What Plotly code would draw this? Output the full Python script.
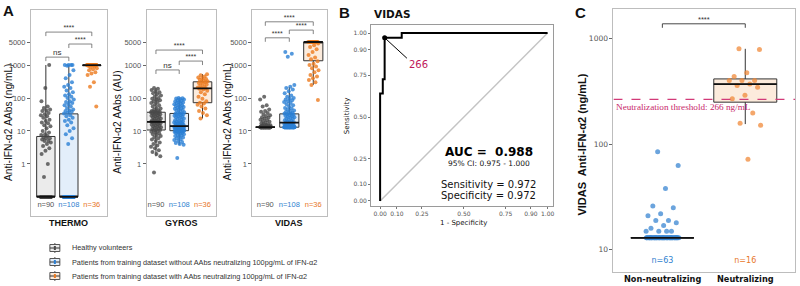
import plotly.graph_objects as go

W, H = 800, 286

# ---------------- data ----------------
legend_labels = ["Healthy volunteers",
                 "Patients from training dataset without AAbs neutralizing 100pg/mL of IFN-α2",
                 "Patients from training dataset with AAbs neutralizing 100pg/mL of IFN-α2"]
count_labels = ["n=90", "n=108", "n=36"]
assay_names = ["THERMO", "GYROS", "VIDAS"]
a_tick_vals = [1, 10, 100, 1000, 5000]
a_tick_text = ["1", "10", "100", "1000", "5000"]
a_y_titles = ["Anti-IFN-α2 AAbs (ng/mL)", "Anti-IFN-α2 AAbs (AU)", "Anti-IFN-α2 AAbs (ng/mL)"]

# THERMO (values below detection drawn at the floor 0.1)
thermo_healthy = [0.1] * 51 + [1000, 200, 80, 55, 50, 45, 42, 40, 35, 32, 30, 28, 25, 22, 20, 18, 17, 15, 14,
                               12, 10, 9, 8, 7.5, 7, 6.5, 6, 6, 5.5, 5, 5, 4.5, 4, 3.5, 3, 2.5, 2, 1, 0.4]
thermo_nonneut = [0.1] * 64 + [1000, 1000, 1000, 1000, 950, 700, 500, 400, 300, 250, 220, 200, 170, 150, 130,
                               120, 110, 100, 90, 80, 75, 70, 65, 60, 55, 50, 45, 42, 40, 38, 36, 34, 30, 28,
                               25, 22, 20, 18, 15, 12, 10, 8, 6, 4]
thermo_neut = [1000] * 24 + [950, 900, 850, 800, 750, 700, 600, 550, 500, 300, 220, 55]

gyros_healthy = [0.55, 1.7, 2, 2.3, 2.6, 3, 3.3, 3.6, 4, 4.5, 5, 5.5, 6, 6.5, 7, 7.5, 8, 8.5, 9, 9.5, 10, 10.3, 10.7,
                 11, 11.5, 12, 12.5, 13, 13.5, 14, 14.5, 15, 15.5, 16, 16.5, 17, 17.5, 18, 18.5, 19, 19, 19.5, 20, 20, 20.5,
                 21, 22, 23, 24, 25, 26, 27, 28, 29, 30, 31, 32, 33, 34, 35, 36, 37, 37, 38, 38, 39, 40,
                 42, 45, 48, 50, 55, 60, 65, 70, 75, 80, 85, 90, 95, 100, 110, 120, 130, 140, 150, 160, 175, 190, 200]
gyros_nonneut = [1.5, 3.8, 4, 4.3, 4.6, 5, 5.3, 5.6, 6, 6.3, 6.6, 7, 7.3, 7.6, 8, 8.3, 8.6, 8.9, 9.1, 9.3, 9.5, 9.7, 9.8,
                 9.9, 10, 10.1, 10.2,
                 10.3, 10.5, 10.7, 10.9, 11, 11.2, 11.4, 11.6, 11.8, 12, 12.2, 12.4, 12.6, 12.8, 13, 13, 13.2, 13.3,
                 13.4, 13.5, 13.6, 13.7, 13.8, 13.9, 14, 14, 14,
                 14.5, 15, 15.5, 16, 16.5, 17, 17.5, 18, 18.5, 19, 19.5, 20, 21, 22, 23, 24, 25, 26, 27, 28, 29, 30,
                 31, 32, 33, 33.5, 34,
                 35, 37, 39, 41, 43, 45, 47, 49, 51, 53, 55, 57, 60, 62, 65, 68, 70, 73, 76, 80, 83, 86, 90, 93, 96, 98, 100]
gyros_neut = [24, 30, 35, 40, 48, 55, 62, 68, 72, 80, 95, 110, 130, 150, 165, 180, 190, 196, 200, 210, 225, 240,
              255, 270, 285, 300, 310, 320, 340, 360, 380, 400, 420, 450, 490, 530]

vidas_healthy = [13] * 60 + [110, 90, 60, 55, 45, 40, 38, 35, 32, 30, 28, 26, 25, 24, 22, 21, 20, 19, 18, 17,
                             16, 16, 15, 15, 15, 14, 14, 14, 14, 14]
vidas_nonneut = [13] * 45 + [2500, 2200, 1800, 250, 220, 200, 180, 160, 140, 120, 110, 100, 95, 90, 85, 80, 75, 70,
                             65, 60, 55, 50, 48, 45, 42, 40, 38, 36, 35, 34, 33, 32, 31, 30, 29, 28, 27, 26, 25, 24,
                             23, 22, 21, 20, 19, 18.5, 18, 18, 17.5, 17, 16.5, 16, 16, 15.5, 15, 15, 14.5, 14.5, 14,
                             14, 14, 13.5, 13.5]
vidas_neut = [5000] * 14 + [4500, 4000, 3500, 3000, 2500, 2000, 1700, 1500, 1300, 1100, 1000, 900, 800, 700, 600,
                            500, 450, 400, 350, 300, 250, 87]

# box statistics per assay: [healthy, non-neutralizing, neutralizing]
box_q1 = {"THERMO": [0.1, 0.1, 950], "GYROS": [10.7, 10.2, 72], "VIDAS": [13, 13, 1350]}
box_median = {"THERMO": [0.1, 0.1, 1000], "GYROS": [19, 14, 196], "VIDAS": [13, 18, 5000]}
box_q3 = {"THERMO": [6.8, 33, 1000], "GYROS": [37, 34, 310], "VIDAS": [13, 33, 5000]}
box_low = {"THERMO": [0.1, 0.1, 950], "GYROS": [1.7, 3.8, 24], "VIDAS": [13, 13, 250]}
box_high = {"THERMO": [1000, 1000, 1000], "GYROS": [200, 100, 530], "VIDAS": [13, 215, 5000]}

# significance brackets: (from group, to group, level, label)
brackets = {
    "THERMO": [(0, 1, 1740, "ns"), (1, 2, 4340, "****"), (0, 2, 10000, "****")],
    "GYROS": [(0, 1, 710, "ns"), (1, 2, 1320, "****"), (0, 2, 2850, "****")],
    "VIDAS": [(0, 1, 6700, "****"), (1, 2, 11500, "****"), (0, 2, 20500, "****")],
}

# ROC (VIDAS)
roc_fpr = [0, 0, 0.016, 0.016, 0.027, 0.027, 0.129, 0.129, 1.0]
roc_tpr = [0, 0.64, 0.64, 0.725, 0.725, 0.972, 0.972, 1.0, 1.0]
roc_cut_fpr, roc_cut_tpr, roc_cut_label = 0.027, 0.972, "266"
roc_ticks = [0, 0.10, 0.25, 0.50, 0.75, 0.90, 1.00]
roc_tick_text = ["0.00", "0.10", "0.25", "0.50", "0.75", "0.90", "1.00"]
auc_text = "AUC =  0.988"
ci_text = "95% CI: 0.975 - 1.000"
sens_text = "Sensitivity = 0.972"
spec_text = "Specificity = 0.972"

# Panel C
c_categories = ["Non-neutralizing", "Neutralizing"]
c_counts = ["n=63", "n=16"]
c_nonneut = [13] * 47 + [85, 63, 38, 26, 25, 22, 21, 19, 19, 18, 17, 16, 15, 15, 15, 15]
c_neut = [800, 790, 474, 437, 400, 400, 400, 372, 360, 347, 290, 270, 197, 158, 151, 72]
c_q1 = [13, 250]
c_median = [13, 370]
c_q3 = [13, 415]
c_low = [13, 155]
c_high = [13, 800]
c_threshold = 266
c_threshold_text = "Neutralization threshold: 266 ng/mL"
c_bracket = (0, 1, 1380, "****")
c_tick_vals = [10, 100, 1000]
c_tick_text = ["10", "100", "1000"]

# ---------------- style ----------------
pt_colors = ["#4A4A4A", "#2A7FD4", "#EC7A1E"]
fill_colors = ["#EBEBEB", "#E3EEFA", "#FCEBDC"]
txt_colors = ["#555555", "#2F7FCF", "#E8772A"]
SANS = "Liberation Sans"
DJ = "DejaVu Sans"


def jitter(n, amp):
    return [((i * 0.6180339887 + 0.31) % 1 - 0.5) * 2 * amp for i in range(n)]


def px(x):
    return x / W


def py(y):
    return 1 - y / H


fig = go.Figure()

a_data = {"THERMO": [thermo_healthy, thermo_nonneut, thermo_neut],
          "GYROS": [gyros_healthy, gyros_nonneut, gyros_neut],
          "VIDAS": [vidas_healthy, vidas_nonneut, vidas_neut]}

for k, assay in enumerate(assay_names):
    xa = "x" if k == 0 else f"x{k + 1}"
    ya = "y" if k == 0 else f"y{k + 1}"
    for g in range(3):
        fig.add_trace(go.Box(x=[g], q1=[box_q1[assay][g]], median=[box_median[assay][g]],
                             q3=[box_q3[assay][g]], lowerfence=[box_low[assay][g]],
                             upperfence=[box_high[assay][g]], width=0.8, whiskerwidth=0,
                             fillcolor=fill_colors[g], line=dict(color="#333333", width=1),
                             boxpoints=False, xaxis=xa, yaxis=ya, showlegend=False, hoverinfo="skip"))
        vals = a_data[assay][g]
        fig.add_trace(go.Scatter(x=[g + j for j in jitter(len(vals), 0.22)], y=vals, mode="markers",
                                 marker=dict(size=4, color=pt_colors[g], opacity=0.8),
                                 xaxis=xa, yaxis=ya, showlegend=False, hoverinfo="skip"))
        fig.add_trace(go.Scatter(x=[g - 0.4, g + 0.4], y=[box_median[assay][g]] * 2, mode="lines",
                                 line=dict(color="#111111", width=1.8), xaxis=xa, yaxis=ya,
                                 showlegend=False, hoverinfo="skip"))
        fig.add_trace(go.Scatter(x=[g], y=[0.057], mode="text", text=[count_labels[g]],
                                 textfont=dict(size=7.5, color=txt_colors[g], family=SANS),
                                 xaxis=xa, yaxis=ya, showlegend=False, hoverinfo="skip", cliponaxis=False))
    for (g0, g1, lev, lab) in brackets[assay]:
        leg = lev * 10 ** (-4 / 33)
        fig.add_trace(go.Scatter(x=[g0, g0, g1, g1], y=[leg, lev, lev, leg], mode="lines",
                                 line=dict(color="#666666", width=0.8), xaxis=xa, yaxis=ya,
                                 showlegend=False, hoverinfo="skip", cliponaxis=False))
        fig.add_trace(go.Scatter(x=[(g0 + g1) / 2], y=[lev], mode="text", text=[lab],
                                 textposition="top center",
                                 textfont=dict(size=8 if lab == "ns" else 7, color="#333333", family=SANS),
                                 xaxis=xa, yaxis=ya, showlegend=False, hoverinfo="skip", cliponaxis=False))

# ROC
fig.add_trace(go.Scatter(x=[0, 1], y=[0, 1], mode="lines", line=dict(color="#C4C4C4", width=1.5),
                         xaxis="x4", yaxis="y4", showlegend=False, hoverinfo="skip"))
fig.add_trace(go.Scatter(x=roc_fpr, y=roc_tpr, mode="lines", line=dict(color="#000000", width=2),
                         xaxis="x4", yaxis="y4", showlegend=False, hoverinfo="skip"))
fig.add_trace(go.Scatter(x=[roc_cut_fpr, 0.16], y=[roc_cut_tpr, 0.85], mode="lines",
                         line=dict(color="#000000", width=1), xaxis="x4", yaxis="y4",
                         showlegend=False, hoverinfo="skip"))
fig.add_trace(go.Scatter(x=[roc_cut_fpr], y=[roc_cut_tpr], mode="markers",
                         marker=dict(size=5, color="#000000"), xaxis="x4", yaxis="y4",
                         showlegend=False, hoverinfo="skip"))

# Panel C
c_vals = [c_nonneut, c_neut]
c_pt_colors = ["#3A85D2", "#F08A3A"]
for g in range(2):
    fig.add_trace(go.Box(x=[g], q1=[c_q1[g]], median=[c_median[g]], q3=[c_q3[g]], lowerfence=[c_low[g]],
                         upperfence=[c_high[g]], width=0.76, whiskerwidth=0,
                         fillcolor=fill_colors[g + 1], line=dict(color="#333333", width=1),
                         boxpoints=False, xaxis="x5", yaxis="y5", showlegend=False, hoverinfo="skip"))
    fig.add_trace(go.Scatter(x=[g + j for j in jitter(len(c_vals[g]), 0.2)], y=c_vals[g], mode="markers",
                             marker=dict(size=5, color=c_pt_colors[g], opacity=0.75),
                             xaxis="x5", yaxis="y5", showlegend=False, hoverinfo="skip"))
    fig.add_trace(go.Scatter(x=[g - 0.38, g + 0.38], y=[c_median[g]] * 2, mode="lines",
                             line=dict(color="#111111", width=1.8), xaxis="x5", yaxis="y5",
                             showlegend=False, hoverinfo="skip"))
    fig.add_trace(go.Scatter(x=[g], y=[7.9], mode="text", text=[c_counts[g]],
                             textfont=dict(size=8, color=txt_colors[g + 1], family=DJ),
                             xaxis="x5", yaxis="y5", showlegend=False, hoverinfo="skip", cliponaxis=False))
fig.add_trace(go.Scatter(x=[-0.59, 1.6], y=[c_threshold] * 2, mode="lines",
                         line=dict(color="#D23A78", width=1.2, dash="dash"), xaxis="x5", yaxis="y5",
                         showlegend=False, hoverinfo="skip"))
g0, g1, lev, lab = c_bracket
leg = lev * 10 ** (-4 / 106)
fig.add_trace(go.Scatter(x=[g0, g0, g1, g1], y=[leg, lev, lev, leg], mode="lines",
                         line=dict(color="#333333", width=0.9), xaxis="x5", yaxis="y5",
                         showlegend=False, hoverinfo="skip"))
fig.add_trace(go.Scatter(x=[(g0 + g1) / 2], y=[lev], mode="text", text=[lab], textposition="top center",
                         textfont=dict(size=7.5, color="#333333", family=SANS),
                         xaxis="x5", yaxis="y5", showlegend=False, hoverinfo="skip", cliponaxis=False))

# ---------------- axes ----------------
frameA = "#BDBDBD"
ax_x_A = dict(showticklabels=False, ticks="", showgrid=False, zeroline=False, showline=True,
              linecolor=frameA, linewidth=1, mirror=True)
ax_y_A = dict(type="log", range=[-1.58, 4.67], tickvals=a_tick_vals, ticktext=a_tick_text, ticks="outside",
              ticklen=3, tickcolor="#666666", tickfont=dict(size=7.5, color="#555555", family=SANS),
              showgrid=False, zeroline=False, showline=True, linecolor=frameA, linewidth=1, mirror=True)
ydomA = [py(216), py(10)]

layout = dict(
    width=W, height=H, margin=dict(l=0, r=0, t=0, b=0), paper_bgcolor="white", plot_bgcolor="white",
    boxmode="overlay",
    xaxis=dict(domain=[px(31), px(107)], range=[-0.65, 2.65], anchor="y", **ax_x_A),
    yaxis=dict(domain=ydomA, anchor="x", **ax_y_A),
    xaxis2=dict(domain=[px(147), px(217)], range=[-0.4, 2.6], anchor="y2", **ax_x_A),
    yaxis2=dict(domain=ydomA, anchor="x2", **ax_y_A),
    xaxis3=dict(domain=[px(253), px(328)], range=[-0.54, 2.58], anchor="y3", **ax_x_A),
    yaxis3=dict(domain=ydomA, anchor="x3", **ax_y_A),
    xaxis4=dict(domain=[px(372), px(554)], range=[-0.054, 1.03], anchor="y4", tickvals=roc_ticks,
                ticktext=roc_tick_text, ticks="outside", ticklen=2, tickcolor="#777777",
                tickfont=dict(size=6, color="#555555", family=DJ), showgrid=False, zeroline=False,
                showline=True, linecolor="#9A9A9A", mirror=True),
    yaxis4=dict(domain=[py(206), py(25)], range=[-0.03, 1.048], anchor="x4", tickvals=roc_ticks,
                ticktext=roc_tick_text, ticks="outside", ticklen=2, tickcolor="#777777",
                tickfont=dict(size=6, color="#555555", family=DJ), showgrid=False, zeroline=False,
                showline=True, linecolor="#9A9A9A", mirror=True),
    xaxis5=dict(domain=[px(615), px(797)], range=[-0.59, 1.6], anchor="y5", showticklabels=False, ticks="",
                showgrid=False, zeroline=False, showline=True, linecolor=frameA, mirror=True),
    yaxis5=dict(domain=[py(272), py(9)], type="log", range=[0.79, 3.28], anchor="x5", tickvals=c_tick_vals,
                ticktext=c_tick_text, ticks="outside", ticklen=3, tickcolor="#666666",
                tickfont=dict(size=7.5, color="#555555", family=DJ), showgrid=False, zeroline=False,
                showline=True, linecolor=frameA, mirror=True),
)
fig.update_layout(**layout)


def ann(text, x, y, size, color="#111111", family=SANS, xanchor="center", angle=0, bold=False):
    fig.add_annotation(text=f"<b>{text}</b>" if bold else text, x=px(x), y=py(y), xref="paper", yref="paper",
                       showarrow=False, xanchor=xanchor, yanchor="middle", textangle=angle,
                       font=dict(size=size, color=color, family=family))


# panel letters
ann("A", 9, 11, 15, bold=True)
ann("B", 345, 13, 15, bold=True)
ann("C", 582, 12, 15, bold=True)

# panel A titles
for k, (cx, tx) in enumerate([(69, 8), (182, 117), (290, 228)]):
    ann(assay_names[k], cx, 223, 9, color="#111111", bold=True)
    ann(a_y_titles[k], tx, 122, 10.2, color="#111111", angle=-90)

# legend
for g in range(3):
    yy = 248 + 14 * g
    fig.add_shape(type="line", x0=px(55), x1=px(55), y0=py(yy - 5), y1=py(yy + 5), xref="paper", yref="paper",
                  line=dict(color="#555555", width=1))
    fig.add_shape(type="rect", x0=px(50), x1=px(60), y0=py(yy - 3.5), y1=py(yy + 3.5), xref="paper",
                  yref="paper", fillcolor=fill_colors[g], line=dict(color="#555555", width=1))
    fig.add_shape(type="line", x0=px(50), x1=px(60), y0=py(yy), y1=py(yy), xref="paper", yref="paper",
                  line=dict(color="#333333", width=1))
    fig.add_shape(type="line", x0=px(55), x1=px(55), y0=py(yy - 2), y1=py(yy + 2), xref="paper", yref="paper",
                  line=dict(color=pt_colors[g], width=2))
    ann(legend_labels[g], 70, yy, 7.3, color="#333333", xanchor="left")

# ROC texts
ann("VIDAS", 373, 14, 10.5, bold=True, family=DJ, xanchor="left")
ann("Sensitivity", 348, 116, 7, color="#111111", family=DJ, angle=-90)
ann("1 - Specificity", 465, 223, 7, color="#111111", family=DJ)
fig.add_annotation(text=roc_cut_label, x=0.23, y=0.81, xref="x4", yref="y4", showarrow=False,
                   font=dict(size=10, color="#C0185A", family=DJ))
fig.add_annotation(text=f"<b>{auc_text}</b>", x=0.65, y=0.29, xref="x4", yref="y4", showarrow=False,
                   font=dict(size=12, color="#000000", family=DJ))
fig.add_annotation(text=ci_text, x=0.65, y=0.225, xref="x4", yref="y4", showarrow=False,
                   font=dict(size=7.5, color="#111111", family=DJ))
fig.add_annotation(text=sens_text, x=0.65, y=0.10, xref="x4", yref="y4", showarrow=False,
                   font=dict(size=10, color="#111111", family=DJ))
fig.add_annotation(text=spec_text, x=0.65, y=0.03, xref="x4", yref="y4", showarrow=False,
                   font=dict(size=10, color="#111111", family=DJ))

# Panel C texts
ann(c_threshold_text, 616, 107, 9.2, color="#C8286A", family="Liberation Serif", xanchor="left")
ann(c_categories[0], 664, 279, 8.2, color="#111111", family=DJ, bold=True)
ann(c_categories[1], 747, 279, 8.2, color="#111111", family=DJ, bold=True)
ann("VIDAS  Anti-IFN-α2 (ng/mL)", 583, 145, 11, color="#111111", bold=True, angle=-90)

fig.write_html("out.html", config={"displayModeBar": False},
               post_script="document.body.style.margin='0';document.body.style.overflow='hidden';")
